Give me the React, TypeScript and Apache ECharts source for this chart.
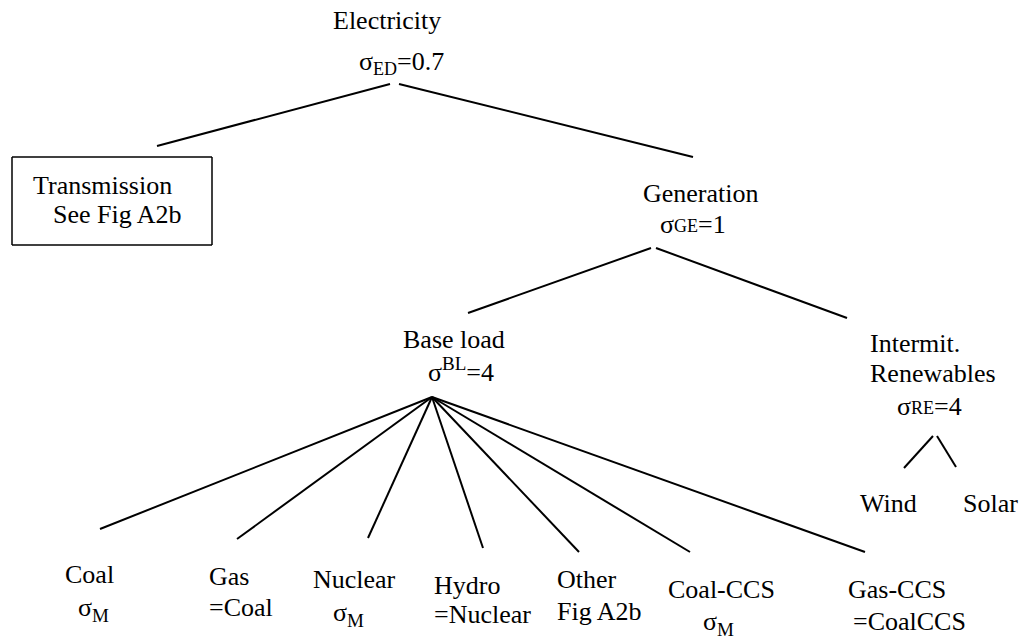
import React, { useEffect, useRef } from "react";
import * as echarts from "echarts";

const FONT_FAMILY = "Liberation Serif";
const MAIN = 26;

// Diagram coordinate space (matches the 1034 x 639 canvas, y measured from the top)
const X_RANGE = [0, 1034];
const Y_RANGE = [0, 639];

// Tree edges: [from, to]
const treeEdges: number[][][] = [
  [[390, 84], [157, 146]],
  [[399, 84], [693, 157]],
  [[651, 248], [468, 313]],
  [[656, 248], [847, 318]],
  [[432, 397], [100, 529]],
  [[432, 397], [237, 539]],
  [[432, 397], [368, 538]],
  [[432, 397], [483, 548]],
  [[432, 397], [579, 552]],
  [[432, 397], [690, 552]],
  [[432, 397], [865, 552]],
  [[933, 436], [904, 468]],
  [[937, 436], [956, 467]],
];

// Transmission box sides
const transmissionBox: number[][][] = [
  [[12, 157], [212, 157]],
  [[212, 157], [212, 245]],
  [[212, 245], [12, 245]],
  [[12, 245], [12, 157]],
];

// Text parts: [text, fontSize, baseline shift]
type Part = [string, number, number];
type Label = { x: number; y: number; parts: Part[] };

const labels: Label[] = [
  { x: 333, y: 29, parts: [["Electricity", MAIN, 0]] },
  { x: 359, y: 70, parts: [["σ", MAIN, 0], ["ED", 18, 5], ["=0.7", MAIN, 0]] },
  { x: 33, y: 194, parts: [["Transmission", MAIN, 0]] },
  { x: 53, y: 223, parts: [["See Fig A2b", MAIN, 0]] },
  { x: 643, y: 202, parts: [["Generation", MAIN, 0]] },
  { x: 660, y: 233, parts: [["σ", MAIN, 0], ["GE", 18, -1], ["=1", MAIN, 0]] },
  { x: 403, y: 348, parts: [["Base load", MAIN, 0]] },
  { x: 428, y: 381, parts: [["σ", MAIN, 0], ["BL", 19, -11], ["=4", MAIN, 0]] },
  { x: 870, y: 352, parts: [["Intermit.", MAIN, 0]] },
  { x: 870, y: 382, parts: [["Renewables", MAIN, 0]] },
  { x: 897, y: 415, parts: [["σ", MAIN, 0], ["RE", 18, -1], ["=4", MAIN, 0]] },
  { x: 860, y: 512, parts: [["Wind", MAIN, 0]] },
  { x: 963, y: 512, parts: [["Solar", MAIN, 0]] },
  { x: 65, y: 583, parts: [["Coal", MAIN, 0]] },
  { x: 78, y: 616, parts: [["σ", MAIN, 0], ["M", 19, 6]] },
  { x: 209, y: 585, parts: [["Gas", MAIN, 0]] },
  { x: 209, y: 616, parts: [["=Coal", MAIN, 0]] },
  { x: 313, y: 588, parts: [["Nuclear", MAIN, 0]] },
  { x: 333, y: 621, parts: [["σ", MAIN, 0], ["M", 19, 6]] },
  { x: 434, y: 594, parts: [["Hydro", MAIN, 0]] },
  { x: 434, y: 623, parts: [["=Nuclear", MAIN, 0]] },
  { x: 557, y: 588, parts: [["Other", MAIN, 0]] },
  { x: 557, y: 620, parts: [["Fig A2b", MAIN, 0]] },
  { x: 668, y: 598, parts: [["Coal-CCS", MAIN, 0]] },
  { x: 703, y: 630, parts: [["σ", MAIN, 0], ["M", 19, 6]] },
  { x: 848, y: 598, parts: [["Gas-CCS", MAIN, 0]] },
  { x: 853, y: 630, parts: [["=CoalCCS", MAIN, 0]] },
];

const flip = (c: number[][]) => c.map(([x, y]) => [x, Y_RANGE[1] - y]);

function buildTextGraphics() {
  const canvas = document.createElement("canvas");
  const ctx = canvas.getContext("2d")!;
  const out: any[] = [];
  labels.forEach((lab) => {
    let cx = lab.x;
    lab.parts.forEach(([t, size, dy]) => {
      ctx.font = `${size}px ${FONT_FAMILY}`;
      const w = ctx.measureText(t).width;
      out.push({
        type: "text",
        x: cx,
        y: lab.y + dy - 0.8375 * size,
        style: {
          text: t,
          fill: "#000",
          fontSize: size,
          fontFamily: FONT_FAMILY,
        },
      });
      cx += w;
    });
  });
  return out;
}

export default function App() {
  const ref = useRef<HTMLDivElement>(null);
  useEffect(() => {
    if (!ref.current) return;
    const chart = echarts.init(ref.current, undefined, { renderer: "svg" });
    chart.setOption({
      animation: false,
      backgroundColor: "#fff",
      textStyle: { fontFamily: FONT_FAMILY },
      grid: { left: 0, top: 0, right: 0, bottom: 0, containLabel: false },
      xAxis: { type: "value", min: X_RANGE[0], max: X_RANGE[1], show: false },
      yAxis: { type: "value", min: Y_RANGE[0], max: Y_RANGE[1], show: false },
      series: [
        {
          type: "lines",
          coordinateSystem: "cartesian2d",
          lineStyle: { color: "#000", width: 2, opacity: 1, curveness: 0 },
          data: treeEdges.map((c) => ({ coords: flip(c) })),
        },
        {
          type: "lines",
          coordinateSystem: "cartesian2d",
          lineStyle: { color: "#000", width: 1.5, opacity: 1, curveness: 0 },
          data: transmissionBox.map((c) => ({ coords: flip(c) })),
        },
      ],
      graphic: buildTextGraphics(),
    });
    return () => chart.dispose();
  }, []);
  return (
    <div
      ref={ref}
      style={{ position: "absolute", left: 0, top: 0, width: 1034, height: 639, background: "#fff" }}
    />
  );
}
